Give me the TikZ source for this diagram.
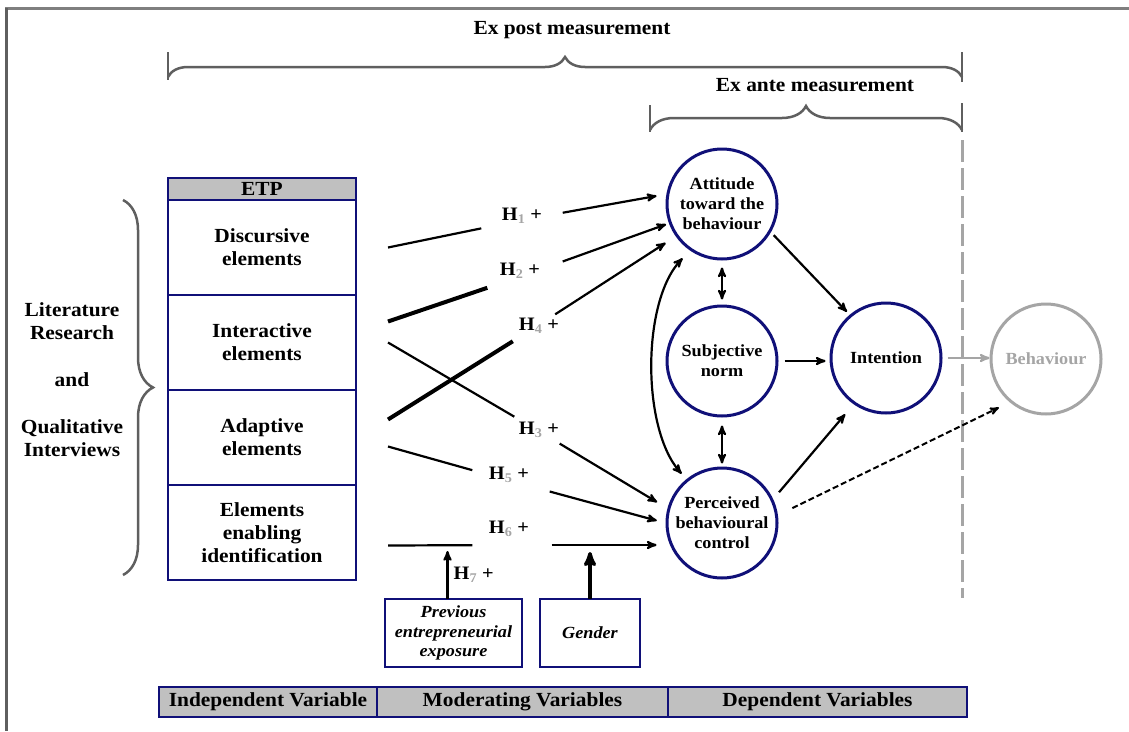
\documentclass[tikz,border=0pt]{standalone}
\usepackage{fontspec}
\setmainfont[FakeStretch=1.07]{Liberation Serif}
\usetikzlibrary{arrows}
\usetikzlibrary{calc}
\usetikzlibrary{positioning}
\usetikzlibrary{decorations.pathreplacing}
\definecolor{etpnavy}{RGB}{16,16,120}
\definecolor{etpgray}{RGB}{192,192,192}
\definecolor{framegray}{RGB}{95,95,95}
\definecolor{behgray}{RGB}{165,165,165}
\newcommand{\boxfont}{\fontsize{20}{23}\selectfont\bfseries}
\newcommand{\circfont}{\fontsize{17}{20}\selectfont\bfseries}
\newcommand{\modfont}{\fontsize{17}{19.5}\selectfont\bfseries\itshape}
\newcommand{\hfont}{\fontsize{19}{22}\selectfont\bfseries}
\newcommand{\hsub}[1]{\textsubscript{\textcolor{behgray}{#1}}}
\newcommand{\gap}{32pt}
\tikzstyle{element} = [rectangle, draw=etpnavy, line width=2.5pt, minimum width=188pt, minimum height=95pt, align=center, inner sep=0pt, outer sep=0pt, font=\boxfont]
\tikzstyle{header} = [element, fill=etpgray, minimum height=22pt]
\tikzstyle{construct} = [circle, draw=etpnavy, line width=3pt, minimum size=110pt, inner sep=0pt, align=center, font=\circfont]
\tikzstyle{moderator} = [rectangle, draw=etpnavy, line width=2.5pt, minimum height=68pt, align=center, inner sep=0pt, outer sep=0pt, font=\modfont]
\tikzstyle{barcell} = [rectangle, draw=etpnavy, fill=etpgray, line width=2.5pt, minimum height=30pt, inner sep=0pt, outer sep=0pt, font=\boxfont]
\tikzstyle{hgap} = [rectangle, minimum height=32pt, inner sep=0pt]
\tikzstyle{hlabel} = [inner sep=0pt, font=\hfont]
\tikzstyle{arrow} = [->,>=stealth',line width=2.2pt]
\tikzstyle{twoway} = [<->,>=stealth',line width=2.2pt]
\tikzstyle{dasharrow} = [->,>=stealth',line width=2pt,dash pattern=on 6pt off 3pt]
\tikzstyle{hline} = [line width=2.2pt]
\tikzstyle{thickline} = [line width=4pt]
\tikzstyle{measure} = [decorate, decoration={brace, amplitude=20pt}, draw=framegray, line width=2.5pt]
\tikzstyle{tick} = [draw=framegray, line width=2.5pt]

\begin{document}
\begin{tikzpicture}[x=1pt,y=-1pt]

  \useasboundingbox (0,0) rectangle (1129,731);

  % frame
  \draw[framegray!80, line width=3pt] (5,8) -- (1129,8);
  \draw[framegray, line width=3pt] (6,8) -- (6,731);

  % measurement braces
  \node (expost) [font=\boxfont] at (572,30) {Ex post measurement};
  \draw[measure] (168,77) -- (962,77);
  \draw[tick] (168,52) -- (168,80);
  \draw[tick] (962,52) -- (962,82);
  \node (exante) [font=\boxfont] at (815,85) {Ex ante measurement};
  \draw[measure, decoration={amplitude=24pt}] (650,130) -- (962,130);
  \draw[tick] (650,105) -- (650,132);
  \draw[tick] (962,103) -- (962,132);

  % ETP column
  \node (etp)   [header] at (262,189) {ETP};
  \node (dis)   [element, below=0pt of etp]   {Discursive\\elements};
  \node (inter) [element, below=0pt of dis]   {Interactive\\elements};
  \node (adap)  [element, below=0pt of inter] {Adaptive\\elements};
  \node (ident) [element, below=0pt of adap]  {Elements\\enabling\\identification};

  \node (lit) [font=\boxfont, align=center] at (72,380) {Literature\\Research\\[24pt]and\\[24pt]Qualitative\\Interviews};
  \draw[measure, decoration={amplitude=30pt}] ([xshift=-45pt]dis.north west) -- ([xshift=-45pt,yshift=5pt]ident.south west);

  % constructs
  \node (att) [construct] at (722,204) {Attitude\\toward the\\behaviour};
  \node (sub) [construct] at (722,361) {Subjective\\norm};
  \node (pbc) [construct] at (722,523) {Perceived\\behavioural\\control};
  \node (int) [construct] at (886,358) {Intention};
  \node (beh) [construct, draw=behgray, text=behgray] at (1046,359) {Behaviour};

  \coordinate (splittop) at (962,140);
  \coordinate (splitbot) at (962,598);
  \draw[behgray, line width=3pt, dash pattern=on 22pt off 6pt] (splittop) -- (splitbot);

  % hypotheses
  \node (g1) [hgap, minimum width=81pt] at (522,220) {};
  \node (g2) [hgap, minimum width=75pt] at (525,275) {};
  \node (g3) [hgap, minimum width=45pt] at (537,430) {};
  \node (g4) [hgap, minimum width=42pt] at (534,328) {};
  \node (g5) [hgap, minimum width=77pt] at (511,481) {};
  \node (g6) [hgap, minimum width=79pt] at (512,545) {};
  \node (l1) [hlabel] at ([yshift=4pt]g1) {H\hsub{1} +};
  \node (l2) [hlabel] at ([xshift=-5pt,yshift=4pt]g2) {H\hsub{2} +};
  \node (l3) [hlabel] at ([xshift=2pt]g3) {H\hsub{3} +};
  \node (l4) [hlabel] at ([xshift=5pt,yshift=2pt]g4) {H\hsub{4} +};
  \node (l5) [hlabel] at ([xshift=-2pt,yshift=6pt]g5) {H\hsub{5} +};
  \node (l6) [hlabel] at ([xshift=-3pt,yshift=16pt]g6) {H\hsub{6} +};

  \draw[hline] ([xshift=\gap]dis.east) -- (g1);
  \draw[arrow, shorten >=10pt] (g1) -- (att.170);
  \draw[thickline] ([xshift=\gap,yshift=21pt]inter.east) -- (g2);
  \draw[arrow, shorten >=3pt] (g2) -- (att.200);
  \draw[hline] ([xshift=\gap]inter.east) -- (g3);
  \draw[arrow, shorten >=12pt] (g3) -- (pbc.165);
  \draw[thickline] ([xshift=\gap,yshift=18pt]adap.east) -- (g4);
  \draw[arrow, shorten >=12pt] (g4) -- (att.215);
  \draw[hline] ([xshift=\gap,yshift=-9pt]adap.east) -- (g5);
  \draw[arrow, shorten >=9pt] (g5) -- (pbc.180);
  \draw[hline] ([xshift=\gap,yshift=-13pt]ident.east) -- (g6);
  \draw[arrow, shorten >=9pt] (g6) -- (g6 -| pbc.west);

  % moderators
  \node (prev)   [moderator, minimum width=137pt] at (453.5,633) {Previous\\entrepreneurial\\exposure};
  \node (gender) [moderator, minimum width=100pt, right=18pt of prev] {Gender};
  \draw[arrow] ([xshift=-6pt]prev.north) -- ++(0,-48);
  \node (l7) [hlabel, anchor=west] at ([yshift=24pt]prev.north) {H\hsub{7} +};
  \draw[arrow, line width=3.5pt] (gender.north) -- ++(0,-47);

  % theory of planned behaviour
  \draw[arrow, shorten <=4pt, shorten >=4pt] (att.-30) -- (int.130);
  \draw[arrow, shorten <=6pt, shorten >=4pt] (sub.east) -- (sub.east -| int.west);
  \draw[arrow, shorten <=9pt, shorten >=13pt] (pbc.25) -- (int.235);
  \draw[twoway, shorten <=7pt, shorten >=5pt] (att.south) -- (sub.north);
  \draw[twoway, shorten <=8pt, shorten >=3pt] (sub.south) -- (pbc.north);
  \draw[twoway] ([shift={(-7pt,-8pt)}]att.235) .. controls +(-41,43) and +(-40,-45) .. ([shift={(-8pt,3pt)}]pbc.125);
  \draw[arrow, behgray, shorten <=5pt] (int.east) -- (int.east -| beh.west);
  \draw[dasharrow, shorten <=16pt, shorten >=12pt] (pbc.8) -- (beh.230);

  % variable types
  \node (indep) [barcell, minimum width=218pt] at (268,702) {Independent Variable};
  \node (moder) [barcell, minimum width=291pt, right=0pt of indep] {Moderating Variables};
  \node (dep)   [barcell, minimum width=299pt, right=0pt of moder] {Dependent Variables};

\end{tikzpicture}
\end{document}
